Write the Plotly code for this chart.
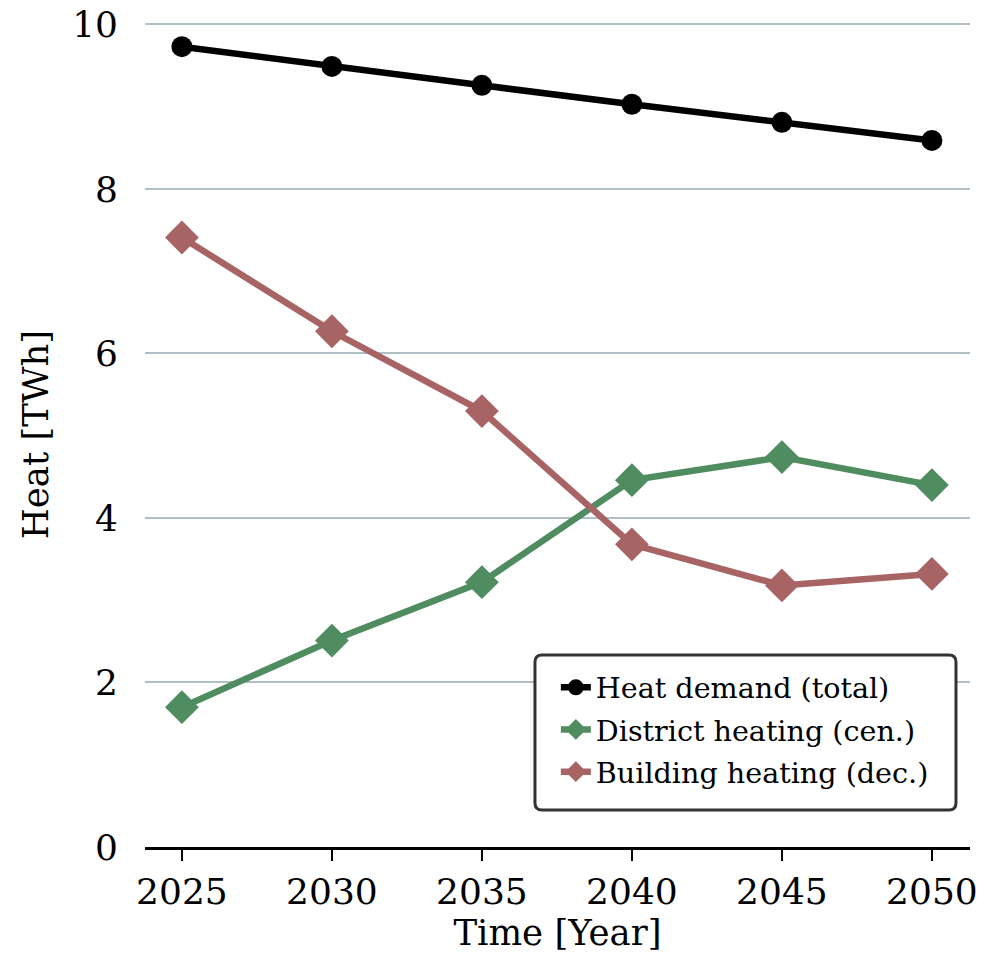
import plotly.graph_objects as go

years = [2025, 2030, 2035, 2040, 2045, 2050]
heat_total = [9.73, 9.49, 9.26, 9.03, 8.81, 8.59]
district = [1.70, 2.51, 3.22, 4.46, 4.74, 4.40]
building = [7.41, 6.27, 5.30, 3.68, 3.18, 3.32]

FONT = "DejaVu Serif"

fig = go.Figure()
fig.add_trace(go.Scatter(x=years, y=heat_total, mode="lines+markers",
                         name="Heat demand (total)", legendgroup="a",
                         line=dict(color="black", width=6.5),
                         marker=dict(symbol="circle", size=21, color="black")))
fig.add_trace(go.Scatter(x=years, y=district, mode="lines+markers",
                         name="District heating (cen.)", legendgroup="b",
                         line=dict(color="#4f8c5f", width=6.5),
                         marker=dict(symbol="diamond", size=26, color="#4f8c5f")))
fig.add_trace(go.Scatter(x=years, y=building, mode="lines+markers",
                         name="Building heating (dec.)", legendgroup="c",
                         line=dict(color="#a86464", width=6.5),
                         marker=dict(symbol="diamond", size=26, color="#a86464")))

# rounded legend frame (paper coords)
x0, x1, y0, y1 = 0.4727, 0.983, 0.0448, 0.2327
rx, ry = 7 / 825, 7 / 825
path = (f"M {x0+rx},{y1} L {x1-rx},{y1} Q {x1},{y1} {x1},{y1-ry} "
        f"L {x1},{y0+ry} Q {x1},{y0} {x1-rx},{y0} L {x0+rx},{y0} "
        f"Q {x0},{y0} {x0},{y0+ry} L {x0},{y1-ry} Q {x0},{y1} {x0+rx},{y1} Z")
fig.add_shape(type="path", path=path, xref="paper", yref="paper",
              fillcolor="white", line=dict(color="#333333", width=3), layer="above")

fig.update_layout(
    width=992, height=953,
    margin=dict(l=145, r=22, t=22, b=106),
    plot_bgcolor="white", paper_bgcolor="white",
    font=dict(family=FONT, size=30, color="black"),
    showlegend=True,
    legend=dict(x=0.498, y=0.224, xanchor="left", yanchor="top",
                bgcolor="rgba(0,0,0,0)", borderwidth=0,
                font=dict(family=FONT, size=28.6, color="black"),
                traceorder="grouped", tracegroupgap=2),
)
fig.update_xaxes(range=[2023.77, 2051.27], tickvals=years,
                 ticktext=[str(y) for y in years], automargin=False,
                 showline=True, linecolor="black", linewidth=2.5,
                 ticks="outside", ticklen=11, tickwidth=2, tickcolor="black",
                 showgrid=False, zeroline=False,
                 title=dict(text="Time [Year]", standoff=13,
                            font=dict(family=FONT, size=35.5, color="black")),
                 tickfont=dict(family=FONT, size=36))
fig.update_yaxes(range=[0, 10.03], tickvals=[0, 2, 4, 6, 8, 10], automargin=False,
                 showline=False, ticks="", showgrid=True,
                 gridcolor="#b0bec5", gridwidth=2, zeroline=False,
                 ticklabelstandoff=26,
                 title=dict(text="Heat [TWh]", standoff=12,
                            font=dict(family=FONT, size=35.5, color="black")),
                 tickfont=dict(family=FONT, size=36))

fig.write_html("out.html", config={"displayModeBar": False},
               post_script="document.body.style.margin='0px';")
